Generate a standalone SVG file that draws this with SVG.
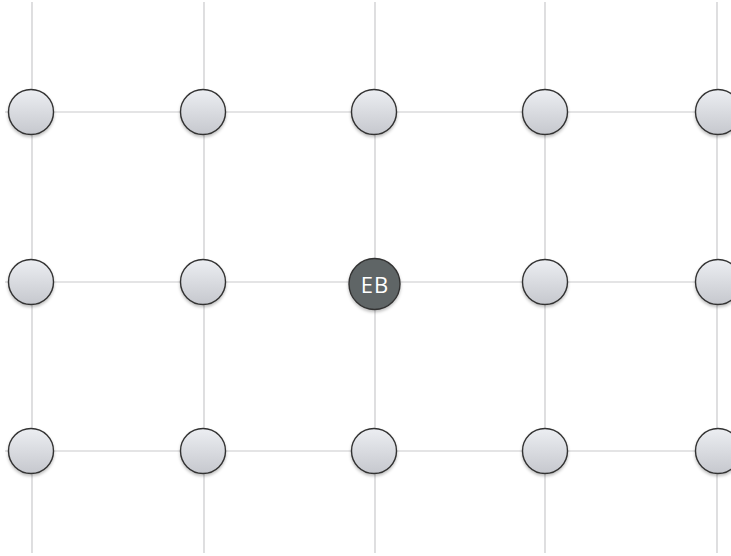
<svg xmlns="http://www.w3.org/2000/svg" width="731" height="556" viewBox="0 0 731 556">
<defs>
<linearGradient id="g" x1="0" y1="0" x2="0" y2="1">
<stop offset="0" stop-color="#eceef2"/>
<stop offset="1" stop-color="#c6c8ce"/>
</linearGradient>
<filter id="sh" x="-30%" y="-30%" width="160%" height="170%">
<feDropShadow dx="0" dy="2" stdDeviation="1.5" flood-color="#000" flood-opacity="0.25"/>
</filter>
</defs>
<style>
.ln{stroke:#c9c9cc;stroke-width:1.2;fill:none}
.n{fill:url(#g);stroke:#333;stroke-width:1.4;filter:url(#sh)}
.eb{fill:#5f6566;stroke:#333;stroke-width:1.4;filter:url(#sh)}
</style>
<rect width="731" height="556" fill="#fff"/>
<g id="connectors">
<line class="ln" x1="32" y1="2" x2="32" y2="553"/>
<line class="ln" x1="204" y1="2" x2="204" y2="553"/>
<line class="ln" x1="375" y1="2" x2="375" y2="553"/>
<line class="ln" x1="545" y1="2" x2="545" y2="553"/>
<line class="ln" x1="717" y1="2" x2="717" y2="553"/>
<line class="ln" x1="5" y1="112" x2="731" y2="112"/>
<line class="ln" x1="5" y1="282" x2="731" y2="282"/>
<line class="ln" x1="5" y1="451" x2="731" y2="451"/>
</g>
<g id="n11"><circle class="n" cx="31" cy="112" r="22.5"/></g>
<g id="n12"><circle class="n" cx="203" cy="112" r="22.5"/></g>
<g id="n13"><circle class="n" cx="374" cy="112" r="22.5"/></g>
<g id="n14"><circle class="n" cx="545" cy="112" r="22.5"/></g>
<g id="n15"><circle class="n" cx="718" cy="112" r="22.5"/></g>
<g id="n21"><circle class="n" cx="31" cy="282" r="22.5"/></g>
<g id="n22"><circle class="n" cx="203" cy="282" r="22.5"/></g>
<g id="eb"><circle class="eb" cx="374.5" cy="284" r="25.5"/><text x="375" y="293" font-family="Open Sans, Liberation Sans, sans-serif" font-size="22" fill="#ffffff" text-anchor="middle" letter-spacing="1">EB</text></g>
<g id="n24"><circle class="n" cx="545" cy="282" r="22.5"/></g>
<g id="n25"><circle class="n" cx="718" cy="282" r="22.5"/></g>
<g id="n31"><circle class="n" cx="31" cy="451" r="22.5"/></g>
<g id="n32"><circle class="n" cx="203" cy="451" r="22.5"/></g>
<g id="n33"><circle class="n" cx="374" cy="451" r="22.5"/></g>
<g id="n34"><circle class="n" cx="545" cy="451" r="22.5"/></g>
<g id="n35"><circle class="n" cx="718" cy="451" r="22.5"/></g>
</svg>
